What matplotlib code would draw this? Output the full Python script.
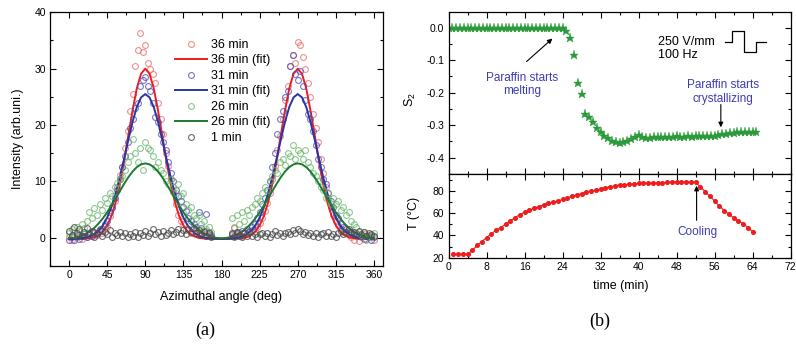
import matplotlib
matplotlib.use("Agg")
import matplotlib.pyplot as plt
from matplotlib.ticker import MultipleLocator

plt.rcParams['font.family'] = ['Liberation Sans', 'DejaVu Sans']
plt.rcParams['mathtext.fontset'] = 'custom'
plt.rcParams['mathtext.rm'] = 'Liberation Sans'
plt.rcParams['mathtext.it'] = 'Liberation Sans:italic'

# ---------------- panel (a) data ----------------
angle_pts = list(range(0, 169, 3)) + list(range(192, 361, 3))
angle_fit = list(range(0, 361, 5))

int_36 = [0.2, -0.4, 0.3, 0.1, 0.5, -0.2, 0.4, 0.2, 0.6, 0.3,
          0.9, 0.5, 1.2, 0.8, 2.1, 2.0, 3.8, 5.2, 6.5, 9.0,
          11.2, 12.5, 16.0, 19.0, 22.5, 25.5, 30.5, 33.3, 36.3, 33.0,
          34.2, 31.0, 30.0, 29.0, 27.5, 24.0, 21.0, 18.5, 15.0, 12.8,
          10.5, 8.2, 6.0, 4.0, 3.0, 2.5, 1.3, 1.6, 0.9, 1.2,
          0.8, 0.5, 1.0, 0.6, 1.2, 0.7, 0.3,
          0.5, 1.8, 0.6, 1.1, 0.4, 0.9, 0.6, 1.0, 1.4, 1.2,
          2.0, 2.6, 3.5, 4.8, 6.2, 8.0, 10.5, 12.8, 15.5, 18.0,
          21.0, 24.5, 27.0, 30.5, 32.5, 31.0, 34.7, 34.2, 32.0, 30.0,
          27.5, 25.0, 22.0, 19.5, 17.0, 14.0, 11.5, 9.0, 7.0, 5.5,
          4.0, 3.0, 2.2, 1.5, 1.0, 0.8, 0.5, 0.2, -0.3, 0.4,
          -0.5, 0.2, 0.6, -0.2, 0.3, 0.5, -0.4]

int_31 = [-0.3, 0.2, -0.4, 0.5, -0.2, 0.3, 0.6, 0.1, 0.8, 0.4,
          1.0, 0.7, 1.5, 1.2, 2.5, 3.0, 4.5, 5.5, 7.0, 8.5,
          10.5, 12.5, 14.5, 17.0, 19.5, 21.0, 23.0, 24.0, 27.0, 28.0,
          28.5, 27.0, 26.0, 24.0, 21.5, 20.5, 18.5, 17.0, 15.5, 13.5,
          11.5, 10.0, 8.5, 7.5, 6.5, 5.5, 4.8, 3.5, 3.0, 2.5,
          2.0, 4.5, 1.8, 1.2, 4.3, 1.0, 0.5,
          0.6, 0.2, 0.9, 0.4, 1.2, 0.8, 1.5, 1.2, 2.0, 2.5,
          3.5, 4.5, 6.0, 7.0, 8.5, 10.0, 12.5, 15.0, 18.5, 21.0,
          22.5, 25.0, 26.0, 30.5, 32.5, 29.0, 28.0, 29.5, 27.0, 24.5,
          22.0, 21.0, 19.0, 16.5, 14.0, 12.5, 10.5, 9.5, 8.0, 6.5,
          5.5, 4.0, 3.5, 2.5, 2.0, 1.5, 1.2, 1.0, 0.6, 0.8,
          0.3, 0.5, -0.2, 0.3, 0.1, -0.3, 0.2]

int_26 = [0.8, 1.5, 0.5, 2.0, 1.2, 2.5, 1.8, 3.0, 4.5, 3.5,
          5.2, 4.0, 6.0, 5.0, 7.0, 6.2, 8.0, 7.5, 9.0, 9.8,
          10.5, 11.0, 12.0, 13.5, 14.5, 17.5, 15.0, 13.5, 16.0, 12.0,
          17.0, 16.0, 15.5, 14.5, 12.5, 13.5, 12.0, 11.5, 10.0, 9.5,
          10.5, 9.0, 8.0, 9.5, 7.5, 8.0, 6.0, 5.0, 5.5, 4.0,
          3.5, 4.0, 2.5, 3.0, 1.5, 2.0, 1.0,
          3.5, 2.0, 4.0, 2.5, 4.5, 3.0, 5.0, 4.0, 5.5, 6.0,
          7.0, 6.5, 8.0, 9.0, 8.5, 10.0, 11.0, 12.0, 11.5, 13.5,
          14.0, 13.0, 15.0, 14.5, 16.5, 14.0, 15.5, 15.0, 14.0, 15.5,
          13.5, 12.5, 11.5, 11.0, 10.0, 9.0, 8.5, 7.0, 8.0, 6.0,
          7.0, 6.0, 6.5, 5.0, 5.5, 4.0, 4.5, 3.0, 2.5, 2.0,
          1.0, 0.5, 1.0, -0.3, 0.5, 0.2, 0.8]

int_1 = [1.2, 0.5, 2.0, 0.8, 1.5, 0.3, 1.0, 1.8, 0.6, 1.2,
         0.2, 0.9, 1.4, 0.4, 1.0, 0.6, 1.3, 0.2, 0.8, 0.5,
         1.1, 0.3, 0.9, 0.1, 0.7, 0.4, 1.0, 0.2, 0.8, 0.5,
         1.2, 0.3, 0.9, 1.6, 0.6, 1.0, 0.4, 1.2, 0.5, 0.9,
         1.4, 0.7, 1.1, 1.6, 0.9, 1.3, 0.6, 1.5, 1.0, 1.7,
         0.8, 1.3, 0.5, 1.0, 0.4, 0.8, 0.2,
         0.9, 0.3, 1.0, 0.5, 0.2, 0.8, 0.4, 1.0, 0.3, 0.7,
         0.1, 0.6, 0.9, 0.3, 0.8, 0.2, 0.6, 1.2, 0.5, 0.9,
         0.3, 0.8, 1.1, 0.6, 1.3, 0.9, 1.6, 1.2, 0.7, 1.1,
         0.5, 0.9, 0.3, 0.8, 0.2, 0.6, 0.9, 0.4, 1.0, 0.3,
         0.7, 0.2, 0.8, 1.2, 0.6, 1.0, 1.5, 0.8, 1.1, 0.5,
         1.2, 0.7, 1.0, 0.4, 0.9, 0.6, 0.3]

fit_36 = [-0.2, -0.2, -0.19, -0.17, -0.13, -0.05, 0.13, 0.48, 1.12, 2.19,
          3.86, 6.29, 9.54, 13.53, 18.2, 22.6, 26.5, 29.1, 30.0, 29.1,
          26.5, 22.6, 18.2, 13.53, 9.54, 6.29, 3.86, 2.19, 1.12, 0.48,
          0.13, -0.05, -0.13, -0.17, -0.19, -0.2, -0.2,
          -0.2, -0.19, -0.17, -0.13, -0.05, 0.13, 0.48, 1.12, 2.19, 3.86,
          6.29, 9.54, 13.53, 18.2, 22.6, 26.5, 29.1, 30.0, 29.1, 26.5,
          22.6, 18.2, 13.53, 9.54, 6.29, 3.86, 2.19, 1.12, 0.48, 0.13,
          -0.05, -0.13, -0.17, -0.19, -0.2, -0.2]

fit_31 = [-0.19, -0.17, -0.14, -0.07, 0.05, 0.27, 0.66, 1.27, 2.22, 3.59,
          5.46, 7.87, 10.78, 14.04, 17.4, 20.6, 23.2, 24.9, 25.5, 24.9,
          23.2, 20.6, 17.4, 14.04, 10.78, 7.87, 5.46, 3.59, 2.22, 1.27,
          0.66, 0.27, 0.05, -0.07, -0.14, -0.17, -0.19,
          -0.17, -0.14, -0.07, 0.05, 0.27, 0.66, 1.27, 2.22, 3.59, 5.46,
          7.87, 10.78, 14.04, 17.4, 20.6, 23.2, 24.9, 25.5, 24.9, 23.2,
          20.6, 17.4, 14.04, 10.78, 7.87, 5.46, 3.59, 2.22, 1.27, 0.66,
          0.27, 0.05, -0.07, -0.14, -0.17, -0.19]

fit_26 = [-0.07, -0.03, 0.11, 0.35, 0.70, 1.18, 1.79, 2.56, 3.47, 4.53,
          5.72, 6.99, 8.29, 9.57, 10.75, 11.76, 12.54, 13.03, 13.2, 13.03,
          12.54, 11.76, 10.75, 9.57, 8.29, 6.99, 5.72, 4.53, 3.47, 2.56,
          1.79, 1.18, 0.70, 0.35, 0.11, -0.03, -0.07,
          -0.03, 0.11, 0.35, 0.70, 1.18, 1.79, 2.56, 3.47, 4.53, 5.72,
          6.99, 8.29, 9.57, 10.75, 11.76, 12.54, 13.03, 13.2, 13.03, 12.54,
          11.76, 10.75, 9.57, 8.29, 6.99, 5.72, 4.53, 3.47, 2.56, 1.79,
          1.18, 0.70, 0.35, 0.11, -0.03, -0.07]

# ---------------- panel (b) data ----------------
time_s2 = [0.0, 0.8, 1.6, 2.4, 3.2, 4.0, 4.8, 5.6, 6.4, 7.2,
           8.0, 8.8, 9.6, 10.4, 11.2, 12.0, 12.8, 13.6, 14.4, 15.2,
           16.0, 16.8, 17.6, 18.4, 19.2, 20.0, 20.8, 21.6, 22.4, 23.2,
           24.0, 24.8, 25.6, 26.4, 27.2, 28.0, 28.8, 29.6, 30.4, 31.2,
           32.0, 32.8, 33.6, 34.4, 35.2, 36.0, 36.8, 37.6, 38.4, 39.2,
           40.0, 40.8, 41.6, 42.4, 43.2, 44.0, 44.8, 45.6, 46.4, 47.2,
           48.0, 48.8, 49.6, 50.4, 51.2, 52.0, 52.8, 53.6, 54.4, 55.2,
           56.0, 56.8, 57.6, 58.4, 59.2, 60.0, 60.8, 61.6, 62.4, 63.2,
           64.0, 64.8]
s2 = [0.0, 0.0, 0.0, 0.0, 0.0, 0.0, 0.0, 0.0, 0.0, 0.0,
      0.0, 0.0, 0.0, 0.0, 0.0, 0.0, 0.0, 0.0, 0.0, 0.0,
      0.0, 0.0, 0.0, 0.0, 0.0, 0.0, 0.0, 0.0, 0.0, 0.0,
      -0.002, -0.012, -0.033, -0.084, -0.170, -0.205, -0.266, -0.274, -0.290, -0.310,
      -0.322, -0.332, -0.338, -0.348, -0.353, -0.355, -0.351, -0.349, -0.343, -0.336,
      -0.329, -0.337, -0.338, -0.338, -0.337, -0.337, -0.336, -0.336, -0.335, -0.335,
      -0.334, -0.335, -0.335, -0.334, -0.335, -0.334, -0.334, -0.333, -0.334, -0.333,
      -0.333, -0.331, -0.328, -0.326, -0.325, -0.324, -0.322, -0.322, -0.321, -0.321,
      -0.320, -0.321]

time_T = list(range(1, 65))
temp = [23, 23, 23, 23, 26.5, 31, 34.5, 38, 41.5, 44.5,
        47, 50, 53, 56, 58.5, 60.8, 62.7, 64.3, 65.8, 67.3,
        68.7, 69.9, 70.8, 72.2, 73.7, 75.2, 76.4, 77.5, 78.5, 79.4,
        80.5, 81.7, 82.8, 83.5, 84.4, 85.2, 85.5, 85.7, 86.1, 86.5,
        86.7, 86.9, 87.0, 87.1, 87.3, 87.4, 87.6, 87.7, 87.8, 87.8,
        87.8, 87.6, 83.5, 79.2, 75.0, 70.8, 66.3, 62.3, 59.0, 55.8,
        53.0, 50.6, 47.0, 43.5]

assert len(int_36) == len(int_31) == len(int_26) == len(int_1) == len(angle_pts)
assert len(fit_36) == len(fit_31) == len(fit_26) == len(angle_fit)
assert len(time_s2) == len(s2) and len(time_T) == len(temp)

W, H = 796, 344
fig = plt.figure(figsize=(W / 100, H / 100), dpi=100)


def rect(x0, y0, x1, y1):
    return [x0 / W, 1 - y1 / H, (x1 - x0) / W, (y1 - y0) / H]


def style(ax):
    for s in ax.spines.values():
        s.set_linewidth(0.9)
    ax.tick_params(which='both', direction='in', top=True, right=True,
                   width=0.8, labelsize=7.5, pad=3)
    ax.tick_params(which='major', length=4)
    ax.tick_params(which='minor', length=2.2)


# ---------------- panel (a) ----------------
axA = fig.add_axes(rect(50, 12.3, 383.3, 266))
ms = 4.2
axA.plot(angle_pts, int_36, 'o', mfc='none', mec='#e86a6a', ms=ms, mew=0.8, alpha=0.75, label='36 min')
axA.plot(angle_fit, fit_36, '-', color='#ee1c1c', lw=1.4, label='36 min (fit)')
axA.plot(angle_pts, int_31, 'o', mfc='none', mec='#4a4ab4', ms=ms, mew=0.8, alpha=0.75, label='31 min')
axA.plot(angle_fit, fit_31, '-', color='#2a35a0', lw=1.4, label='31 min (fit)')
axA.plot(angle_pts, int_26, 'o', mfc='none', mec='#6ab46a', ms=ms, mew=0.8, alpha=0.75, label='26 min')
axA.plot(angle_fit, fit_26, '-', color='#1b7a2e', lw=1.4, label='26 min (fit)')
axA.plot(angle_pts, int_1, 'o', mfc='none', mec='#505050', ms=ms, mew=0.8, alpha=0.85, label='1 min')
axA.set_xlim(-22.5, 371)
axA.set_ylim(-5, 40)
axA.xaxis.set_major_locator(MultipleLocator(45))
axA.xaxis.set_minor_locator(MultipleLocator(22.5))
axA.yaxis.set_major_locator(MultipleLocator(10))
axA.yaxis.set_minor_locator(MultipleLocator(5))
style(axA)
leg = axA.legend(loc='upper left', bbox_to_anchor=(0.375, 0.895), frameon=False,
                 fontsize=9, handlelength=2.6, handletextpad=0.3, labelspacing=0.28,
                 borderpad=0, borderaxespad=0)
fig.text(18 / W, 1 - 139 / H, 'Intensity (arb.uni.)', rotation=90, ha='center', va='center', fontsize=9)
fig.text(221 / W, 1 - 297 / H, 'Azimuthal angle (deg)', ha='center', va='center', fontsize=9)
fig.text(205 / W, 1 - 330 / H, '(a)', ha='center', va='center', fontsize=13, family='Liberation Serif')

# ---------------- panel (b) top ----------------
axS = fig.add_axes(rect(448.5, 12.3, 790.7, 174))
axS.plot(time_s2, s2, '*', color='#2a9a3a', ms=6.5, mew=0.3)
axS.set_xlim(0, 72)
axS.set_ylim(-0.45, 0.047)
axS.xaxis.set_major_locator(MultipleLocator(8))
axS.xaxis.set_minor_locator(MultipleLocator(4))
axS.yaxis.set_major_locator(MultipleLocator(0.1))
axS.yaxis.set_minor_locator(MultipleLocator(0.05))
axS.yaxis.set_major_formatter(matplotlib.ticker.FormatStrFormatter('%.1f'))
style(axS)
axS.tick_params(labelbottom=False)
blue_txt = '#3c3cb4'
axS.annotate('', xy=(22.3, -0.028), xytext=(16.0, -0.11),
             arrowprops=dict(arrowstyle='-|>', color='black', lw=0.8, mutation_scale=7))
axS.text(15.5, -0.175, 'Paraffin starts\nmelting', ha='center', va='center',
         fontsize=8.5, color=blue_txt, linespacing=1.15)
axS.annotate('', xy=(57.3, -0.315), xytext=(57.3, -0.228),
             arrowprops=dict(arrowstyle='-|>', color='black', lw=0.8, mutation_scale=7))
axS.text(57.7, -0.198, 'Paraffin starts\ncrystallizing', ha='center', va='center',
         fontsize=8.5, color=blue_txt, linespacing=1.15)
axS.text(44.0, -0.065, '250 V/mm\n100 Hz', ha='left', va='center', fontsize=9, linespacing=1.15)
axS.plot([58.2, 59.6, 59.6, 62.2, 62.2, 64.7, 64.7, 66.8],
         [-0.043, -0.043, -0.009, -0.009, -0.076, -0.076, -0.043, -0.043],
         color='black', lw=0.9)
fig.text(410 / W, 1 - 100 / H, 'S$_2$', rotation=90, ha='center', va='center', fontsize=9)

# ---------------- panel (b) bottom ----------------
axT = fig.add_axes(rect(448.5, 174, 790.7, 258.3))
axT.plot(time_T, temp, '-o', color='#ee1c1c', ms=2.6, lw=0.8)
axT.set_xlim(0, 72)
axT.set_ylim(19.5, 95)
axT.xaxis.set_major_locator(MultipleLocator(8))
axT.xaxis.set_minor_locator(MultipleLocator(4))
axT.yaxis.set_major_locator(MultipleLocator(20))
axT.yaxis.set_minor_locator(MultipleLocator(10))
style(axT)
axT.annotate('', xy=(52.2, 87.0), xytext=(52.2, 51.0),
             arrowprops=dict(arrowstyle='-|>', color='black', lw=0.8, mutation_scale=7))
axT.text(52.4, 42.8, 'Cooling', ha='center', va='center', fontsize=8.5, color=blue_txt)
fig.text(414 / W, 1 - 213 / H, 'T (°C)', rotation=90, ha='center', va='center', fontsize=9)
fig.text(621 / W, 1 - 286 / H, 'time (min)', ha='center', va='center', fontsize=9)
fig.text(600 / W, 1 - 321 / H, '(b)', ha='center', va='center', fontsize=13, family='Liberation Serif')

fig.savefig('out.png', dpi=100)
